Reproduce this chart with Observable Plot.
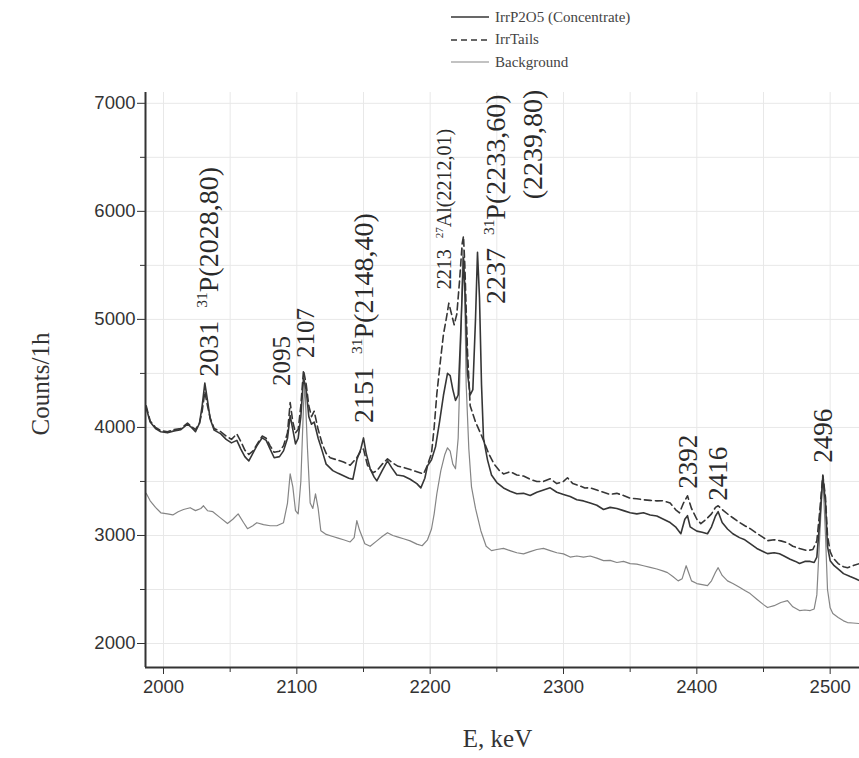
<!DOCTYPE html>
<html>
<head>
<meta charset="utf-8">
<script src="https://cdn.jsdelivr.net/npm/d3@7"></script>
<script src="https://cdn.jsdelivr.net/npm/@observablehq/plot@0.6"></script>
<style>
  body { margin: 0; background: #fff; }
  #wrap { width: 859px; }
  #legend { position: relative; height: 80px; font-family: "Liberation Serif", serif; font-size: 15px; color: #444; }
  .lrow { position: absolute; left: 450px; display: flex; align-items: center; height: 20px; }
  .lrow svg { margin-right: 5px; }
</style>
</head>
<body>
<div id="wrap">
  <div id="legend"></div>
  <div id="chart"></div>
</div>
<script>
// ---------- data ----------
const seriesNames = ["IrrP2O5 (Concentrate)", "IrrTails", "Background"];

const concE = [1987,1990,1994,1998,2003,2008,2013,2018,2021,2024,2027,2029,2031,2033,2035,2038,2043,2047,2051,2055,2058,2061,2064,2067,2070,2074,2077,2080,2083,2087,2090,2093,2095,2097,2099,2101,2103,2105,2107,2109,2111,2113,2116,2119,2122,2127,2131,2135,2139,2142,2145,2148,2150,2152,2155,2158,2160,2164,2168,2171,2175,2180,2185,2190,2193,2196,2198,2201,2204,2207,2210,2213,2215,2217,2219,2221,2223,2225,2226,2228,2230,2232,2234,2235.5,2237,2238.5,2240,2243,2246,2250,2255,2260,2265,2270,2275,2280,2285,2290,2295,2300,2305,2310,2315,2320,2325,2330,2335,2340,2345,2350,2355,2360,2365,2370,2375,2380,2384,2388,2391,2393,2395,2397,2400,2404,2408,2411,2414,2416,2419,2423,2427,2432,2436,2440,2445,2450,2453,2458,2462,2465,2470,2474,2477,2481,2485,2488,2490,2492,2494.5,2496.5,2498,2500,2503,2507,2510,2515,2519,2522];
const concCounts = [4180,4050,3990,3960,3950,3968,3980,4030,4000,3960,4040,4200,4410,4250,4079,3975,3940,3890,3857,3880,3800,3730,3690,3760,3830,3903,3880,3800,3719,3730,3783,3900,4110,3980,3848,3900,4100,4458,4350,4100,4030,4050,3900,3783,3660,3600,3575,3552,3530,3520,3700,3800,3903,3760,3617,3540,3506,3600,3690,3630,3560,3550,3520,3480,3441,3530,3645,3700,3820,4050,4300,4500,4480,4350,4250,4300,4900,5570,5300,4500,4300,4350,5000,5620,5200,4400,3900,3700,3560,3490,3440,3410,3386,3390,3370,3400,3420,3441,3400,3380,3360,3330,3320,3300,3280,3240,3260,3250,3230,3210,3200,3210,3190,3180,3150,3120,3080,3016,3150,3183,3080,3063,3040,3030,3016,3080,3180,3220,3120,3060,3016,2980,2960,2924,2880,2850,2832,2840,2830,2813,2780,2760,2740,2760,2760,2750,2800,3100,3550,3300,2900,2767,2720,2680,2647,2620,2600,2582];

const tailsE = [1987,1990,1994,1998,2003,2008,2013,2018,2021,2024,2027,2029,2031,2033,2035,2038,2043,2047,2051,2055,2058,2061,2064,2067,2070,2074,2077,2080,2083,2087,2090,2093,2095,2097,2099,2101,2103,2105,2107,2109,2111,2113,2116,2119,2122,2125,2130,2135,2140,2145,2148,2150,2153,2157,2160,2164,2168,2172,2176,2180,2185,2190,2195,2198,2201,2203,2205,2208,2210,2212,2214,2216,2218,2220,2222,2224,2225,2226,2228,2230,2234,2238,2241,2244,2248,2252,2255,2260,2265,2270,2275,2280,2285,2290,2295,2300,2303,2307,2312,2316,2320,2325,2330,2335,2340,2345,2350,2355,2360,2365,2370,2375,2380,2384,2387,2390,2393,2396,2400,2403,2407,2411,2414,2416,2420,2424,2427,2432,2436,2440,2445,2450,2453,2458,2463,2468,2472,2477,2483,2487,2490,2492,2494.5,2496.5,2498,2500,2502,2506,2510,2513,2517,2522];
const tailsCounts = [4200,4060,4000,3970,3960,3980,3990,4040,4010,3980,4040,4150,4330,4200,4090,3990,3960,3920,3890,3940,3870,3790,3750,3780,3840,3920,3900,3830,3770,3780,3830,3950,4230,4050,3950,3980,4200,4530,4400,4200,4100,4150,3980,3850,3760,3719,3700,3680,3650,3720,3783,3800,3650,3580,3600,3660,3709,3670,3640,3630,3610,3590,3570,3650,3760,4000,4310,4650,4864,5000,5150,5050,4950,5050,5350,5700,5770,5500,4700,4200,4050,3940,3850,3755,3660,3600,3570,3590,3560,3550,3520,3500,3500,3525,3480,3500,3534,3480,3460,3440,3441,3420,3400,3380,3390,3370,3345,3340,3330,3325,3320,3321,3300,3240,3210,3300,3367,3250,3150,3109,3150,3200,3260,3275,3230,3190,3164,3120,3090,3063,3020,2980,2952,2960,2950,2933,2900,2880,2860,2870,2950,3200,3560,3350,3000,2850,2795,2740,2710,2702,2720,2740];

const bgE = [1987,1990,1994,1998,2003,2007,2011,2015,2020,2024,2028,2030,2033,2037,2042,2048,2052,2056,2060,2063,2067,2070,2075,2080,2085,2090,2093,2095,2097,2099,2101,2103,2105,2106,2108,2110,2112,2114,2116,2118,2122,2127,2131,2135,2140,2143,2145,2147,2151,2155,2160,2164,2168,2172,2176,2180,2185,2190,2194,2198,2201,2203,2205,2208,2211,2213,2215,2217,2219,2221,2223,2224.5,2226,2227,2229,2231,2234,2238,2242,2246,2250,2255,2260,2265,2270,2275,2280,2285,2290,2295,2300,2305,2310,2315,2320,2325,2330,2335,2340,2345,2350,2355,2360,2365,2370,2375,2378,2382,2386,2389,2392,2394,2396,2400,2404,2408,2411,2414,2416,2419,2423,2427,2432,2436,2440,2445,2450,2453,2458,2463,2468,2472,2477,2481,2485,2488,2490,2492,2494.5,2496.5,2498,2500,2502,2506,2510,2513,2517,2522];
const bgCounts = [3390,3321,3260,3210,3200,3190,3220,3240,3257,3230,3250,3275,3229,3220,3170,3110,3150,3200,3120,3063,3090,3118,3100,3090,3090,3118,3300,3570,3450,3230,3200,3500,4200,4400,3800,3300,3250,3386,3250,3044,3010,2990,2975,2960,2940,2980,3137,3050,2924,2900,2950,2990,3026,3000,2985,2970,2950,2920,2905,2960,3060,3200,3386,3600,3750,3811,3780,3660,3617,3900,4800,5650,5200,4400,3800,3450,3250,3044,2900,2860,2870,2880,2860,2840,2830,2850,2870,2880,2860,2840,2830,2800,2810,2800,2810,2790,2767,2770,2750,2760,2740,2735,2720,2705,2690,2670,2656,2620,2580,2600,2720,2650,2580,2555,2545,2536,2580,2660,2702,2630,2580,2555,2520,2490,2462,2410,2360,2333,2350,2380,2397,2340,2305,2310,2305,2320,2450,2950,3550,3000,2500,2330,2277,2240,2210,2194,2190,2185];

// peak annotations (text, energy keV, counts where the text starts, font size)
const annoText = ["2031 ^31P(2028,80)", "2095", "2107", "2151 ^31P(2148,40)", "2213 ^27Al(2212,01)", "2237 ^31P(2233,60)", "(2239,80)", "2392", "2416", "2496"];
const annoE = [2034.5, 2088.5, 2106.5, 2150.7, 2210.6, 2249.6, 2277.4, 2393.6, 2416, 2494.8];
const annoCounts = [4470, 4384, 4643, 4042, 5280, 5142, 6112, 3432, 3321, 3672];
const annoSize = [28, 25, 25, 28, 20, 28, 28, 27, 27, 27];

const xTicks = [2000, 2100, 2200, 2300, 2400, 2500];
const xMinorTicks = [2050, 2150, 2250, 2350, 2450];
const yTicks = [2000, 3000, 4000, 5000, 6000, 7000];
const yMinorTicks = [2500, 3500, 4500, 5500, 6500];
const xDomain = [1986.5, 2522];
const yDomain = [1778, 7100];

// ---------- build ----------
const toRows = (E, C) => E.map((e, i) => ({E: e, c: C[i]}));
const conc = toRows(concE, concCounts);
const tails = toRows(tailsE, tailsCounts);
const bg = toRows(bgE, bgCounts);
const annos = annoText.map((t, i) => ({t, E: annoE[i], c: annoCounts[i], s: annoSize[i]}));

const styles = [
  {stroke: "#363636", width: 1.6, dash: null},
  {stroke: "#363636", width: 1.6, dash: "7,4"},
  {stroke: "#858585", width: 1.2, dash: null}
];

// legend
const legend = document.getElementById("legend");
seriesNames.forEach((name, i) => {
  const row = document.createElement("div");
  row.className = "lrow";
  row.style.top = (7 + i * 22.5) + "px";
  const st = styles[i];
  row.innerHTML = `<svg width="40" height="10"><line x1="1" x2="39" y1="5" y2="5" stroke="${st.stroke}" stroke-width="${st.width}" ${st.dash ? `stroke-dasharray="6,4"` : ""}/></svg><span>${name}</span>`;
  legend.appendChild(row);
});

const tickFont = {fontSize: 18.5, fontFamily: "Liberation Sans, Arial, sans-serif", tickFormat: d => String(d)};

const chart = Plot.plot({
  width: 859,
  height: 678,
  marginLeft: 145,
  marginRight: 0,
  marginTop: 12,
  marginBottom: 91,
  x: {domain: xDomain},
  y: {domain: yDomain},
  style: {background: "#fff", color: "#333"},
  marks: [
    Plot.gridX([...xTicks, ...xMinorTicks], {stroke: "#e8e8e8", strokeOpacity: 1}),
    Plot.gridY([...yTicks, ...yMinorTicks], {stroke: "#e8e8e8", strokeOpacity: 1}),
    Plot.line(bg, {x: "E", y: "c", stroke: styles[2].stroke, strokeWidth: styles[2].width, clip: true}),
    Plot.line(tails, {x: "E", y: "c", stroke: styles[1].stroke, strokeWidth: styles[1].width, strokeDasharray: styles[1].dash, clip: true}),
    Plot.line(conc, {x: "E", y: "c", stroke: styles[0].stroke, strokeWidth: styles[0].width, clip: true}),
    Plot.axisX(xTicks, {tickSize: 7, tickPadding: 5, label: null, ...tickFont}),
    Plot.axisX(xMinorTicks, {tickSize: 5, tickFormat: () => "", label: null}),
    Plot.axisY(yTicks, {tickSize: 8, tickPadding: 2, label: null, ...tickFont}),
    Plot.axisY(yMinorTicks, {tickSize: 5, tickFormat: () => "", label: null}),
    Plot.ruleX([xDomain[0]], {stroke: "#333", strokeWidth: 2}),
    Plot.ruleY([yDomain[0]], {stroke: "#333", strokeWidth: 2}),
    Plot.text(["Counts/1h"], {frameAnchor: "left", dx: -105, dy: 4, rotate: -90, textAnchor: "middle", lineAnchor: "middle", fontSize: 25, fontFamily: "Liberation Serif, serif", fill: "#333"}),
    Plot.text(["E, keV"], {frameAnchor: "bottom", dy: 71, dx: -5, textAnchor: "middle", lineAnchor: "middle", fontSize: 25, fontFamily: "Liberation Serif, serif", fill: "#333"}),
    Plot.text(annos, {x: "E", y: "c", text: "t", fontSize: "s", rotate: -90, textAnchor: "start", lineAnchor: "middle", fontFamily: "Liberation Serif, serif", fill: "#2a2a2a", className: "anno"})
  ]
});
document.getElementById("chart").appendChild(chart);

// superscripts in annotations
d3.select(chart).selectAll(".anno text").each(function() {
  const txt = this.textContent;
  const m = txt.match(/^(.*?)\^(\d+)(.*)$/);
  if (!m) return;
  const fs = parseFloat(getComputedStyle(this).fontSize) || 27;
  const sel = d3.select(this);
  sel.text(null);
  sel.append("tspan").text(m[1]);
  sel.append("tspan").attr("font-size", fs * 0.55).attr("dy", -fs * 0.4).attr("dx", 6).text(m[2]);
  sel.append("tspan").attr("dy", fs * 0.4).text(m[3]);
});
</script>
</body>
</html>
